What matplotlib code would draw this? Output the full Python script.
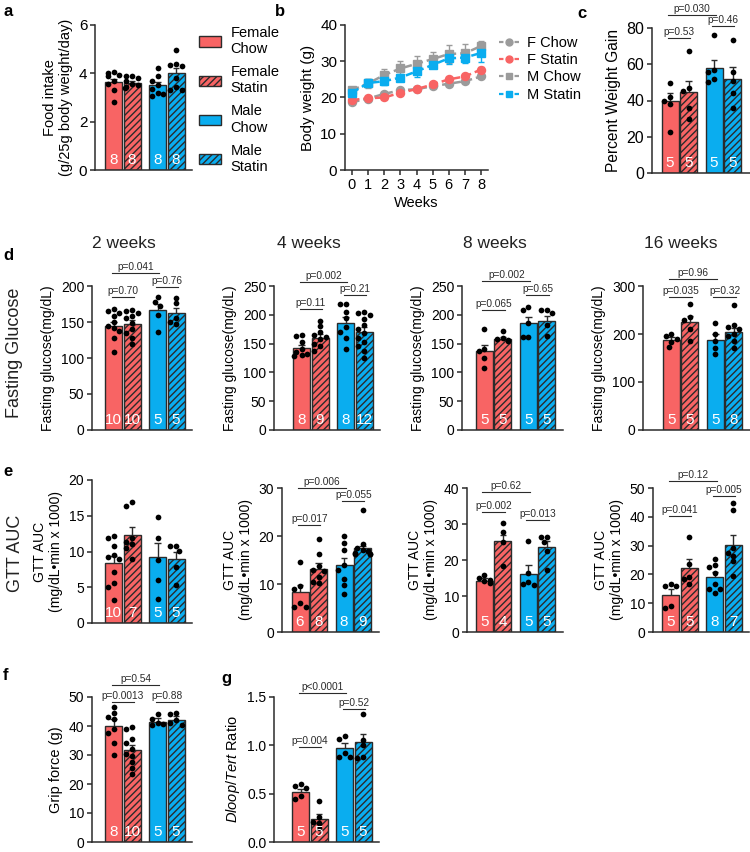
import numpy as np
import matplotlib
matplotlib.use('Agg')
import matplotlib.pyplot as plt
from matplotlib.patches import Patch
from matplotlib.lines import Line2D
from matplotlib.transforms import blended_transform_factory

plt.rcParams['font.family'] = ['Liberation Sans', 'DejaVu Sans']
plt.rcParams['mathtext.fontset'] = 'custom'
plt.rcParams['mathtext.it'] = 'Liberation Sans:italic'
plt.rcParams['mathtext.rm'] = 'Liberation Sans'
plt.rcParams['hatch.linewidth'] = 1.0

# ---------------- data ----------------
groups = ['Female\nChow', 'Female\nStatin', 'Male\nChow', 'Male\nStatin']

# a: food intake
food_mean = [3.64, 3.62, 3.50, 4.02]
food_sem = [0.13, 0.07, 0.13, 0.19]
food_pts = [[4.05, 4.0, 3.95, 3.9, 3.7, 3.55, 3.3, 2.8],
            [3.9, 3.9, 3.8, 3.7, 3.55, 3.5, 3.45, 3.4],
            [4.2, 3.9, 3.7, 3.5, 3.35, 3.2, 3.15, 3.05],
            [4.95, 4.4, 4.3, 4.35, 3.8, 3.45, 3.3, 3.3]]
food_n = [8, 8, 8, 8]

# b: body weight
weeks = [0, 1, 2, 3, 4, 5, 6, 7, 8]
bw_labels = ['F Chow', 'F Statin', 'M Chow', 'M Statin']
bw_fchow = [18.7, 19.7, 21.0, 22.0, 22.3, 23.1, 23.8, 24.5, 25.8]
bw_fchow_err = [0.5, 0.4, 0.4, 0.5, 0.4, 0.4, 0.5, 0.5, 0.5]
bw_fstat = [19.3, 19.8, 20.0, 21.3, 22.3, 23.6, 25.0, 25.8, 27.7]
bw_fstat_err = [0.4, 0.4, 0.5, 0.5, 0.5, 0.5, 0.5, 0.6, 0.6]
bw_mchow = [22.0, 23.9, 26.2, 28.0, 29.3, 30.6, 32.0, 32.2, 34.2]
bw_mchow_err = [0.8, 1.3, 1.6, 2.0, 2.2, 2.0, 2.5, 2.5, 1.5]
bw_mstat = [21.3, 24.0, 24.5, 25.5, 27.2, 29.0, 30.8, 31.0, 32.3]
bw_mstat_err = [0.6, 1.0, 1.0, 1.0, 1.5, 1.0, 1.5, 1.5, 2.5]

# c: percent weight gain
pwg_mean = [39.5, 44.5, 58.0, 52.0]
pwg_sem = [4.5, 6.5, 4.5, 6.5]
pwg_pts = [[49.5, 42, 38, 40, 22.5], [67.5, 47, 45.5, 36, 30],
           [76, 57, 56, 52, 50], [73.5, 56, 50.5, 44, 36]]
pwg_n = [5, 5, 5, 5]
pwg_p = ['p=0.53', 'p=0.030', 'p=0.46']

# d: fasting glucose
fg2_mean = [145, 147, 166, 162]; fg2_sem = [5, 6, 9, 8]
fg2_pts = [[168, 165, 162, 158, 150, 145, 142, 138, 128, 108],
           [167, 165, 163, 158, 155, 148, 140, 135, 128, 120],
           [185, 178, 172, 160, 136], [184, 176, 156, 150, 147]]
fg2_n = [10, 10, 5, 5]; fg2_p = ['p=0.70', 'p=0.041', 'p=0.76']

fg4_mean = [143, 160, 185, 170]; fg4_sem = [5, 7, 11, 9]
fg4_pts = [[165, 163, 152, 140, 135, 132, 130, 128],
           [190, 180, 170, 165, 162, 158, 150, 145, 138],
           [218, 218, 205, 195, 178, 170, 160, 140],
           [205, 203, 200, 192, 182, 175, 168, 160, 152, 145, 138, 125]]
fg4_n = [8, 9, 8, 12]; fg4_p = ['p=0.11', 'p=0.002', 'p=0.21']

fg8_mean = [138, 158, 185, 190]; fg8_sem = [10, 4, 11, 8]
fg8_pts = [[175, 140, 138, 125, 107], [172, 160, 158, 157, 155],
           [213, 208, 185, 162, 162], [208, 208, 203, 183, 163]]
fg8_n = [5, 5, 5, 5]; fg8_p = ['p=0.065', 'p=0.002', 'p=0.65']

fg16_mean = [188, 225, 188, 205]; fg16_sem = [6, 13, 11, 8]
fg16_pts = [[200, 195, 190, 183, 172], [262, 235, 230, 210, 185],
            [223, 200, 185, 170, 158],
            [260, 218, 215, 210, 200, 195, 185, 170]]
fg16_n = [5, 5, 5, 8]; fg16_p = ['p=0.035', 'p=0.96', 'p=0.32']

# e: GTT AUC
gtt2_mean = [8.4, 12.3, 9.2, 9.0]; gtt2_sem = [1.0, 1.1, 2.0, 0.9]
gtt2_pts = [[12.1, 11.9, 10.7, 9.5, 9.3, 9.0, 7.2, 5.6, 5.0, 3.2],
            [16.9, 16.3, 11.9, 11.3, 11.0, 10.5, 8.9],
            [14.8, 11.9, 8.8, 6.0, 3.3], [10.8, 10.7, 10.1, 7.8, 5.3]]
gtt2_n = [10, 7, 5, 5]

gtt4_mean = [8.4, 13.2, 13.9, 17.4]; gtt4_sem = [1.4, 1.1, 1.5, 0.6]
gtt4_pts = [[14.5, 9.5, 9.0, 6.1, 5.2, 5.2],
            [19.3, 16.3, 13.8, 13.0, 12.8, 11.5, 10.5, 10.3],
            [20.1, 18.5, 17.0, 14.0, 13.0, 11.0, 9.8, 8.0],
            [25.5, 18.3, 17.5, 17.0, 16.8, 16.5, 16.3, 16.2, 16.2]]
gtt4_n = [6, 8, 8, 9]; gtt4_p = ['p=0.017', 'p=0.006', 'p=0.055']

gtt8_mean = [14.3, 25.2, 16.0, 23.5]; gtt8_sem = [0.6, 1.8, 2.5, 1.8]
gtt8_pts = [[15.8, 15.0, 14.5, 14.2, 13.6], [30.2, 27.8, 25.0, 18.2],
            [25.2, 16.5, 13.8, 13.2, 13.0], [26.5, 26.5, 25.0, 22.5, 17.3]]
gtt8_n = [5, 4, 5, 5]; gtt8_p = ['p=0.002', 'p=0.62', 'p=0.013']

gtt16_mean = [13.0, 22.2, 19.0, 30.1]; gtt16_sem = [1.8, 3.1, 1.8, 3.7]
gtt16_pts = [[16.5, 15.8, 15.8, 9.0, 8.5], [33, 23.7, 19.0, 18.5, 16.7],
             [25.5, 23.2, 22.5, 20.5, 16.5, 15.0, 15.0, 13.5],
             [44.8, 42.2, 29.0, 27.5, 26.5, 24.5, 19.5]]
gtt16_n = [5, 5, 8, 7]; gtt16_p = ['p=0.041', 'p=0.12', 'p=0.005']

# f: grip force
grip_mean = [40.0, 31.8, 41.5, 42.2]; grip_sem = [2.4, 1.6, 1.2, 1.1]
grip_pts = [[46.5, 44.5, 43.0, 42.5, 39.0, 37.5, 34.0, 30.0],
            [39.5, 39.0, 35.5, 34.0, 32.0, 30.5, 29.5, 27.5, 25.5, 23.5],
            [44.0, 42.5, 41.0, 40.8, 40.5], [44.5, 44.0, 42.0, 41.0, 40.5]]
grip_n = [8, 10, 5, 5]; grip_p = ['p=0.0013', 'p=0.54', 'p=0.88']

# g: Dloop/Tert ratio
dl_mean = [0.52, 0.24, 0.97, 1.03]; dl_sem = [0.03, 0.05, 0.05, 0.09]
dl_pts = [[0.60, 0.58, 0.56, 0.48, 0.45], [0.42, 0.26, 0.21, 0.20, 0.14],
          [1.10, 1.07, 0.92, 0.88, 0.88], [1.32, 1.06, 1.00, 0.88, 0.87]]
dl_n = [5, 5, 5, 5]; dl_p = ['p=0.004', 'p<0.0001', 'p=0.52']

# ---------------- style / layout ----------------
W, H = 750, 852
RED = '#F86464'
BLUE = '#0AADEF'
GRAY = '#9B9B9B'
DARK = '#2B2B2B'
UNIT = 18.5                       # px per data unit on bar panels
BAR_OFF = np.array([0, 18.5, 44, 62.5])
BW = 17.0

fig = plt.figure(figsize=(W / 100, H / 100), dpi=100)


def style_ax(ax, fs=10):
    for s in ['top', 'right']:
        ax.spines[s].set_visible(False)
    for s in ['left', 'bottom']:
        ax.spines[s].set_color(DARK)
        ax.spines[s].set_linewidth(1.1)
    ax.tick_params(axis='both', colors=DARK, labelcolor='black', length=3.5,
                   width=1.1, labelsize=fs, pad=2)


def swarm(vals, kpx, diam=5.6, step=2.8, lim=7.5):
    vals = np.asarray(vals, float)
    order = np.argsort(-vals)
    placed = []
    xs = np.zeros(len(vals))
    cands = [0]
    for i in range(1, 6):
        cands += [-i * step, i * step]
    for i in order:
        y = vals[i] * kpx
        best = None
        for off in cands:
            if abs(off) > lim:
                continue
            if all((off - px) ** 2 + (y - py) ** 2 >= diam ** 2 for px, py in placed):
                best = off
                break
        if best is None:
            best = cands[len(placed) % len(cands)]
            best = max(-lim, min(lim, best))
        placed.append((best, y))
        xs[i] = best
    return xs


def bar_panel(left, top, bot, c0, ymax, yticks, means, sems, pts, ns, ylabel,
              plabels=(), pys=(), ylfs=10, tfs=10, ytfmt=None, right=None):
    if right is None:
        right = c0 + 78.5
    ax = fig.add_axes([left / W, 1 - bot / H, (right - left) / W, (bot - top) / H])
    pos = BAR_OFF / UNIT
    ax.set_xlim((left - c0) / UNIT, (right - c0) / UNIT)
    ax.set_ylim(0, ymax)
    kpx = (bot - top) / ymax
    for k in range(4):
        col = RED if k < 2 else BLUE
        if k % 2:
            ax.bar(pos[k], means[k], width=BW / UNIT, color=col, edgecolor=DARK,
                   hatch='/////', lw=1.0, zorder=2)
        else:
            ax.bar(pos[k], means[k], width=BW / UNIT, color=col, edgecolor=DARK,
                   lw=1.0, zorder=2)
        top_e = means[k] + sems[k]
        ax.vlines(pos[k], means[k], top_e, color=DARK, lw=1.0, zorder=3)
        ax.hlines(top_e, pos[k] - 3.2 / UNIT, pos[k] + 3.2 / UNIT, color=DARK,
                  lw=1.0, zorder=3)
        xs = swarm(pts[k], kpx) / UNIT
        ax.scatter(pos[k] + xs, pts[k], s=17, color='black', lw=0, zorder=4,
                   clip_on=False)
        tr = blended_transform_factory(ax.transData, ax.transAxes)
        ax.text(pos[k], 0.02, str(ns[k]), color='white', fontsize=11,
                ha='center', va='bottom', transform=tr, zorder=5)
    pairs = [(0, 1), (0, 2), (2, 3)]
    for (i, j), lab, yv in zip(pairs, plabels, pys):
        ax.plot([pos[i] - 0.1, pos[j] + 0.1], [yv, yv], color=DARK, lw=0.8,
                clip_on=False, zorder=3)
        ax.annotate(lab, xy=((pos[i] + pos[j]) / 2, yv), xytext=(0, 0.8),
                    textcoords='offset points', ha='center', va='bottom',
                    fontsize=7.3, color=DARK, annotation_clip=False)
    ax.set_xticks([])
    ax.set_yticks(yticks)
    if ytfmt:
        ax.set_yticklabels([ytfmt.format(t) for t in yticks])
    style_ax(ax, tfs)
    ax.set_ylabel(ylabel, fontsize=ylfs, labelpad=4)
    return ax


# ---- a ----
bar_panel(95, 25, 170, 113.5, 6, [0, 2, 4, 6], food_mean, food_sem, food_pts,
          food_n, 'Food intake\n(g/25g body weight/day)', ylfs=10.5, tfs=11)
hand_a = [Patch(facecolor=RED, edgecolor=DARK, lw=1.0),
          Patch(facecolor=RED, edgecolor=DARK, hatch='/////', lw=1.0),
          Patch(facecolor=BLUE, edgecolor=DARK, lw=1.0),
          Patch(facecolor=BLUE, edgecolor=DARK, hatch='/////', lw=1.0)]
fig.legend(hand_a, groups, loc='upper left', bbox_to_anchor=(199 / W, 1 - 26 / H),
           frameon=False, fontsize=10.5, handlelength=1.5, handleheight=0.7,
           labelspacing=0.62, handletextpad=0.65, borderaxespad=0, borderpad=0)

# ---- b ----
axb = fig.add_axes([345 / W, 1 - 170 / H, (488 - 345) / W, (170 - 25) / H])
series = [(bw_fchow, bw_fchow_err, GRAY, 'o'), (bw_fstat, bw_fstat_err, RED, 'o'),
          (bw_mchow, bw_mchow_err, GRAY, 's'), (bw_mstat, bw_mstat_err, BLUE, 's')]
hand_b = []
for (vals, err, col, mk), lab in zip(series, bw_labels):
    axb.errorbar(weeks, vals, yerr=err, color=col, marker=mk, ms=5.8 if mk == 'o' else 6.2,
                 lw=1.8, ls=(0, (3, 1.6)), capsize=2.5, elinewidth=1.0, capthick=1.0,
                 clip_on=False)
    hand_b.append(Line2D([], [], color=col, marker=mk, ms=5, lw=1.6, ls=(0, (2, 1.5))))
axb.set_xlim(-0.434, 8.434)
axb.set_ylim(0, 40)
axb.set_xticks(weeks)
axb.set_yticks([0, 10, 20, 30, 40])
style_ax(axb, 11)
axb.tick_params(axis='x', labelsize=10.5)
axb.set_xlabel('Weeks', fontsize=10.5, labelpad=3)
axb.set_ylabel('Body weight (g)', fontsize=11, labelpad=4)
fig.legend(hand_b, bw_labels, loc='upper left', bbox_to_anchor=(499 / W, 1 - 36 / H),
           frameon=False, fontsize=10.5, handlelength=1.4, labelspacing=0.22,
           handletextpad=0.5, borderaxespad=0, borderpad=0)

# ---- c ----
bar_panel(652, 28, 173, 670.0, 80, [0, 20, 40, 60, 80], pwg_mean, pwg_sem, pwg_pts,
          pwg_n, 'Percent Weight Gain', pwg_p, [74.5, 87.2, 81.1], ylfs=11.2,
          tfs=11.5, right=750)

# ---- d ----
bar_panel(92, 286, 430, 113.5, 200, [0, 50, 100, 150, 200], fg2_mean, fg2_sem,
          fg2_pts, fg2_n, 'Fasting glucose(mg/dL)', fg2_p, [184.7, 218, 198.6])
bar_panel(274, 286, 430, 301.5, 250, [0, 50, 100, 150, 200, 250], fg4_mean, fg4_sem,
          fg4_pts, fg4_n, 'Fasting glucose(mg/dL)', fg4_p, [210, 257, 234])
bar_panel(462, 286, 430, 484.3, 250, [0, 50, 100, 150, 200, 250], fg8_mean, fg8_sem,
          fg8_pts, fg8_n, 'Fasting glucose(mg/dL)', fg8_p, [208, 259, 234])
bar_panel(643, 286, 430, 671.3, 300, [0, 100, 200, 300], fg16_mean, fg16_sem,
          fg16_pts, fg16_n, 'Fasting glucose(mg/dL)', fg16_p, [277, 315, 277])

# ---- e ----
gl = 'GTT AUC\n(mg/dL\u2022min x 1000)'
bar_panel(92, 480, 623, 113.5, 20, [0, 5, 10, 15, 20], gtt2_mean, gtt2_sem,
          gtt2_pts, gtt2_n, gl)
bar_panel(282, 488, 632, 300.0, 30, [0, 10, 20, 30], gtt4_mean, gtt4_sem,
          gtt4_pts, gtt4_n, gl, gtt4_p, [22.3, 30.0, 27.3])
bar_panel(467, 488, 632, 484.3, 40, [0, 10, 20, 30, 40], gtt8_mean, gtt8_sem,
          gtt8_pts, gtt8_n, gl, gtt8_p, [33.3, 38.9, 31.1])
bar_panel(653, 488, 632, 670.7, 50, [0, 10, 20, 30, 40, 50], gtt16_mean, gtt16_sem,
          gtt16_pts, gtt16_n, gl, gtt16_p, [40.3, 52.4, 47.2])

# ---- f, g ----
bar_panel(92, 697, 842, 113.5, 50, [0, 10, 20, 30, 40, 50], grip_mean, grip_sem,
          grip_pts, grip_n, 'Grip force (g)', grip_p, [48.3, 54.1, 48.3], ylfs=10.5)
bar_panel(274, 697, 842, 300.5, 1.5, [0, 0.5, 1.0, 1.5], dl_mean, dl_sem, dl_pts,
          dl_n, r'$\mathit{Dloop}$/$\mathit{Tert}$ Ratio', dl_p, [0.983, 1.541, 1.376],
          ylfs=10.5, ytfmt='{:.1f}')

# ---- titles, row labels, panel letters ----
for lab, cx in [('2 weeks', 124), ('4 weeks', 309), ('8 weeks', 495), ('16 weeks', 681)]:
    fig.text(cx / W, 1 - 243 / H, lab, ha='center', va='center', fontsize=12.5,
             color='#222222')
fig.text(15 / W, 1 - 353 / H, 'Fasting Glucose', rotation=90, ha='center',
         va='center', fontsize=13, color='#222222')
fig.text(15 / W, 1 - 553 / H, 'GTT AUC', rotation=90, ha='center', va='center',
         fontsize=13, color='#222222')
for lab, x, y in [('a', 3, 12), ('b', 275, 12), ('c', 577, 13), ('d', 3, 256),
                  ('e', 3, 472), ('f', 3, 676), ('g', 221, 678)]:
    fig.text(x / W, 1 - y / H, lab, fontsize=12, fontweight='bold', ha='left',
             va='center')

fig.savefig('out.png', dpi=100)
